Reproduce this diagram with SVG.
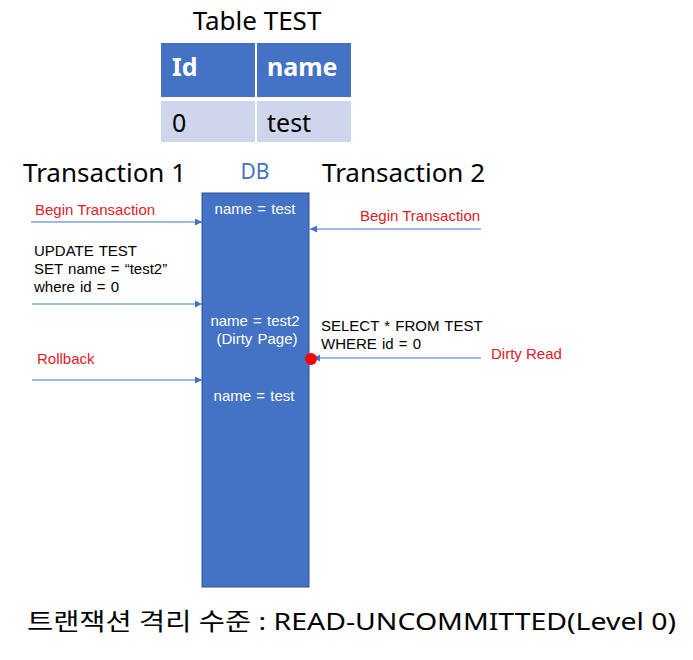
<svg xmlns="http://www.w3.org/2000/svg" width="693" height="660" viewBox="0 0 693 660">
<style>
text{font-family:"Noto Sans","Noto Sans CJK KR",sans-serif;}
.big{font-size:26px;fill:#000;}
.hdr{font-size:25px;fill:#fff;font-weight:bold;}
.cell{font-size:25px;fill:#000;}
.sm{font-family:"Liberation Sans","Noto Sans CJK KR",sans-serif;font-size:15px;}
.db{fill:#fff;text-anchor:middle;word-spacing:1px;}
.red{fill:#E0202A;}
.blk{fill:#000;word-spacing:1px;}
.conn{stroke:#4472C4;stroke-width:1.2;fill:none;marker-end:url(#ah);}
</style>
<defs>
<marker id="ah" viewBox="0 0 10 10" refX="10" refY="5" markerWidth="7" markerHeight="7" markerUnits="userSpaceOnUse" orient="auto"><path d="M0,0 L10,5 L0,10 z" fill="#4472C4"/></marker>
</defs>
<rect width="693" height="660" fill="#fff"/>
<g id="table">
<text class="big" x="257" y="30" text-anchor="middle">Table TEST</text>
<rect x="161" y="43" width="94" height="54" fill="#4472C4"/>
<rect x="257" y="43" width="94" height="54" fill="#4472C4"/>
<rect x="161" y="101" width="94" height="41" fill="#CFD5EA"/>
<rect x="257" y="101" width="94" height="41" fill="#CFD5EA"/>
<text class="hdr" x="172" y="76">Id</text>
<text class="hdr" x="267" y="76">name</text>
<text class="cell" x="172" y="132">0</text>
<text class="cell" x="267" y="132">test</text>
</g>
<g id="t1-label"><text class="big" x="23" y="182">Transaction 1</text></g>
<g id="t2-label"><text class="big" x="322" y="182">Transaction 2</text></g>
<g id="db">
<text x="255" y="179" text-anchor="middle" style="font-size:21px;fill:#4472C4">DB</text>
<rect x="202" y="193" width="107" height="394" fill="#4472C4" stroke="#2F528F" stroke-width="1"/>
<text class="sm db" x="255" y="214">name = test</text>
<text class="sm db" y="326"><tspan x="255">name = test2</tspan><tspan x="257" dy="18">(Dirty Page)</tspan></text>
<text class="sm db" x="254" y="401">name = test</text>
</g>
<g id="t1-ops">
<text class="sm red" x="35" y="215">Begin Transaction</text>
<text class="sm blk" y="256"><tspan x="34">UPDATE TEST</tspan><tspan x="34" dy="18">SET name = “test2”</tspan><tspan x="34" dy="18">where id = 0</tspan></text>
<text class="sm red" x="37" y="364">Rollback</text>
</g>
<g id="t2-ops">
<text class="sm red" x="360" y="221">Begin Transaction</text>
<text class="sm blk" y="331"><tspan x="321">SELECT * FROM TEST</tspan><tspan x="321" dy="18">WHERE id = 0</tspan></text>
<text class="sm red" x="491" y="359">Dirty Read</text>
</g>
<g id="connectors">
<line class="conn" x1="31" y1="222" x2="202" y2="222"/>
<line class="conn" x1="32" y1="304" x2="202" y2="304"/>
<line class="conn" x1="32" y1="380" x2="202" y2="380"/>
<line class="conn" x1="481" y1="229" x2="310" y2="229"/>
<line class="conn" x1="481" y1="358" x2="313" y2="358"/>
</g>
<g id="dirty-dot"><circle cx="311" cy="359" r="6" fill="#FF0000"/></g>
<g id="caption">
<text x="27" y="630" style="font-size:24px;fill:#000" textLength="649" lengthAdjust="spacingAndGlyphs">트랜잭션 격리 수준 : READ-UNCOMMITTED(Level 0)</text>
</g>
</svg>
